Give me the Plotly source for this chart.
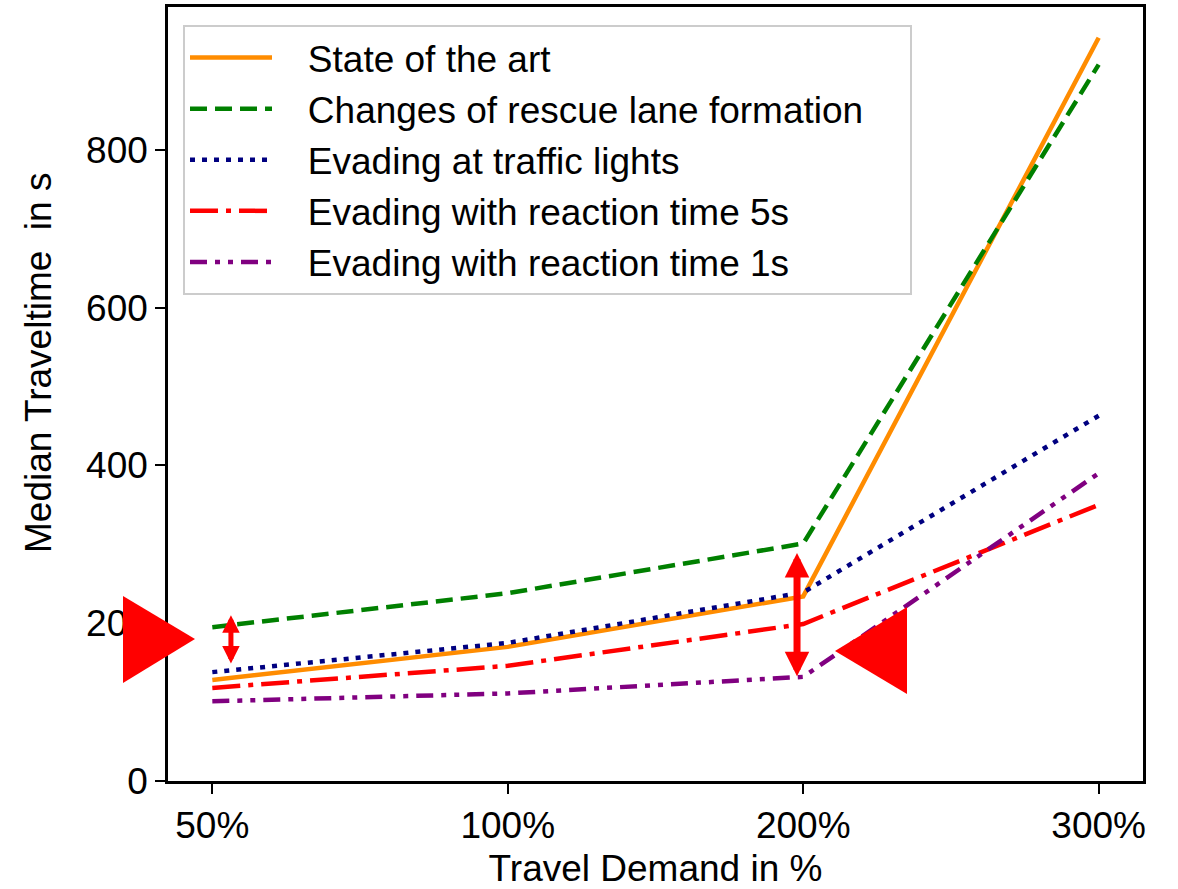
import plotly.graph_objects as go

# ---- data ----
categories = ["50%", "100%", "200%", "300%"]
state_of_art = [128, 170, 234, 942]
rescue_lane = [195, 238, 301, 908]
traffic_lights = [138, 175, 239, 463]
reaction_5s = [118, 146, 199, 350]
reaction_1s = [101, 111, 132, 390]
y_ticks = [0, 200, 400, 600, 800]
series_names = [
    "State of the art",
    "Changes of rescue lane formation",
    "Evading at traffic lights",
    "Evading with reaction time 5s",
    "Evading with reaction time 1s",
]

series_values = [state_of_art, rescue_lane, traffic_lights, reaction_5s, reaction_1s]
series_colors = ["#FF8C00", "#008000", "#000080", "#FF0000", "#800080"]
series_dashes = ["solid", "17px,8px", "5px,7px", "28px,8px,5px,8px",
                 "17px,8px,5px,8px,5px,8px"]

xpos = list(range(len(categories)))
FONT = "Liberation Sans, Arial, sans-serif"
FS = 37
NB = "\u00a0"

fig = go.Figure()
for name, vals, color, dash in zip(series_names, series_values, series_colors, series_dashes):
    label = NB * 3 + name + (NB * 4 if name == series_names[1] else "")
    fig.add_trace(go.Scatter(
        x=xpos, y=vals, mode="lines", name=label,
        line=dict(color=color, width=4.5, dash=dash),
    ))

# plot-area pixel geometry (for paper-referenced decorations)
L, R, T, B = 168, 1143, 7, 781
W, H = 1178, 889
def px(xp): return (xp - L) / (R - L)
def py(yp): return (B - yp) / (B - T)

# red triangles
tri_left = [(123, 596), (123, 683), (195, 639)]
tri_right = [(907, 607), (907, 694), (835, 651)]
for tri in (tri_left, tri_right):
    path = "M " + " L ".join(f"{px(a):.5f},{py(b):.5f}" for a, b in tri) + " Z"
    fig.add_shape(type="path", path=path, xref="paper", yref="paper",
                  fillcolor="#FF0000", line=dict(width=0), layer="above")

# double-headed arrows (data coordinates)
arrows = [
    (0.063, 147, 210, 5, 0.7),
    (1.979, 131, 289, 7, 0.7),
]
for x, y0, y1, w, s in arrows:
    fig.add_annotation(x=x, y=y1, ax=x, ay=y0, xref="x", yref="y",
                       axref="x", ayref="y", text="", showarrow=True,
                       arrowhead=2, startarrowhead=2, arrowside="end+start",
                       arrowwidth=w, arrowsize=s, startarrowsize=s,
                       arrowcolor="#FF0000")

# y-axis title
fig.add_annotation(text="Median Traveltime" + NB + " in s", textangle=-90,
                   xref="paper", yref="paper", x=px(38), y=py(363),
                   xanchor="center", yanchor="middle", showarrow=False,
                   font=dict(family=FONT, size=FS, color="black"))

fig.update_layout(
    width=W, height=H,
    margin=dict(l=L, r=W - R, t=T, b=H - B, autoexpand=False),
    paper_bgcolor="white", plot_bgcolor="white",
    font=dict(family=FONT, size=FS, color="black"),
    showlegend=True,
    legend=dict(
        x=px(183), y=py(25), xanchor="left", yanchor="top",
        bgcolor="rgba(255,255,255,0.8)", bordercolor="#CCCCCC", borderwidth=2,
        font=dict(family=FONT, size=FS, color="black"),
        itemwidth=82, tracegroupgap=0,
    ),
    xaxis=dict(
        range=[-0.15, 3.15], tickvals=xpos, ticktext=categories,
        showgrid=False, zeroline=False, showline=True, mirror=True,
        linecolor="black", linewidth=2.5, ticks="outside", ticklen=10,
        tickwidth=2, tickcolor="black", automargin=False,
        title=dict(text="Travel Demand in %", font=dict(size=FS), standoff=19),
        tickfont=dict(size=FS),
    ),
    yaxis=dict(
        range=[0, 981], tickvals=y_ticks,
        showgrid=False, zeroline=False, showline=True, mirror=True,
        linecolor="black", linewidth=2.5, ticks="outside", ticklen=10,
        tickwidth=2, tickcolor="black", automargin=False,
        tickfont=dict(size=FS),
    ),
)

fig.write_html("out.html")
